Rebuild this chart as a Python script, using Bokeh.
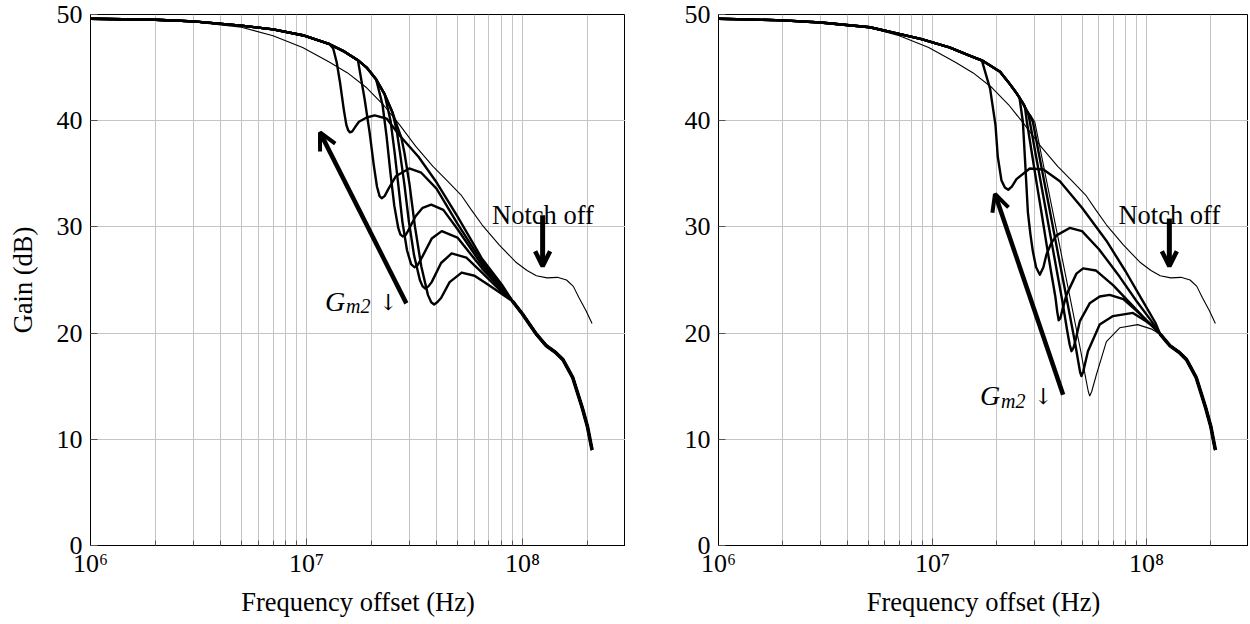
from bokeh.plotting import figure
from bokeh.layouts import row
from bokeh.models import Range1d, Arrow, OpenHead, FixedTicker, CustomJSTickFormatter
from bokeh.embed import file_html
from bokeh.resources import INLINE
from bokeh.core.properties import value

FONT = "Liberation Serif"

# ---------------- axes / labels ----------------
x_ticks = [1e6, 1e7, 1e8]
x_tick_labels = ["10\u2076", "10\u2077", "10\u2078"]
x_minor_mult = [2, 3, 4, 5, 6, 7, 8, 9]
y_ticks = [0, 10, 20, 30, 40, 50]
x_label = "Frequency offset (Hz)"
y_label = "Gain (dB)"
notch_text = "Notch off"

# ---------------- shared curves ----------------
notch_off_f = [1e6, 2e6, 3e6, 5e6, 7e6, 9.6e6, 1.28e7, 1.55e7, 1.9e7, 2.27e7, 2.7e7, 3.2e7,
               3.85e7, 4.5e7, 5.2e7, 5.8e7, 6.5e7, 7.8e7, 9.3e7, 1.05e8, 1.16e8, 1.3e8,
               1.45e8, 1.6e8, 1.72e8, 1.83e8, 1.97e8, 2.1e8]
notch_off_g = [49.6, 49.45, 49.3, 48.8, 48.0, 46.9, 45.5, 44.5, 43.1, 41.5, 39.6, 37.6,
               35.7, 34.3, 33.0, 31.6, 30.2, 28.3, 26.7, 25.9, 25.4, 25.2,
               25.25, 25.0, 24.4, 23.3, 22.1, 20.9]

tail_f = [9.0e7, 1.0e8, 1.16e8, 1.29e8, 1.42e8, 1.54e8, 1.71e8, 1.89e8, 2.0e8, 2.1e8]
tail_g = [23.0, 21.8, 19.9, 18.8, 18.2, 17.5, 15.8, 13.0, 11.2, 9.0]

# ---------------- left panel ----------------
L_env_f = [1e6, 2e6, 3e6, 5e6, 7e6, 9.6e6, 1.28e7, 1.5e7, 1.73e7, 1.9e7, 2.1e7, 2.3e7, 2.5e7, 2.65e7]
L_env_g = [49.6, 49.5, 49.35, 48.95, 48.6, 48.05, 47.2, 46.5, 45.7, 45.0, 43.9, 42.5, 40.8, 39.3]

L1_f = [1.33e7, 1.38e7, 1.43e7, 1.49e7, 1.53e7, 1.56e7, 1.59e7, 1.63e7, 1.68e7, 1.75e7, 1.9e7,
        2.07e7, 2.35e7, 2.7e7, 3.3e7, 4.0e7, 5.0e7, 6.5e7, 8.0e7]
L1_g = [46.8, 45.5, 43.6, 41.0, 39.6, 39.1, 38.9, 39.0, 39.4, 39.9, 40.3,
        40.5, 40.2, 38.6, 36.6, 34.2, 31.0, 27.0, 24.6]
L2_f = [1.73e7, 1.86e7, 1.96e7, 2.05e7, 2.12e7, 2.18e7, 2.23e7, 2.3e7, 2.4e7, 2.6e7, 2.99e7,
        3.4e7, 4.0e7, 5.0e7, 6.5e7, 8.0e7]
L2_g = [45.7, 42.0, 38.9, 35.8, 33.8, 32.9, 32.7, 32.9, 33.6, 34.8, 35.5,
        35.1, 33.6, 30.3, 26.7, 24.4]
L3_f = [2.1e7, 2.25e7, 2.35e7, 2.45e7, 2.55e7, 2.66e7, 2.72e7, 2.79e7, 2.87e7, 2.95e7, 3.2e7,
        3.45e7, 3.78e7, 4.3e7, 5.0e7, 6.5e7, 8.0e7]
L3_g = [43.9, 41.5, 38.5, 35.0, 32.0, 29.9, 29.3, 29.1, 29.2, 29.6, 31.0,
        31.8, 32.1, 31.6, 29.8, 26.4, 24.3]
L4_f = [2.3e7, 2.45e7, 2.56e7, 2.66e7, 2.78e7, 2.92e7, 3.05e7, 3.16e7, 3.27e7, 3.4e7, 3.8e7,
        4.23e7, 5.0e7, 6.5e7, 8.0e7]
L4_g = [42.5, 40.0, 37.0, 34.0, 30.5, 27.8, 26.5, 26.2, 26.4, 27.0, 28.9,
        29.6, 29.0, 26.1, 24.1]
L5_f = [2.5e7, 2.62e7, 2.71e7, 2.84e7, 2.98e7, 3.15e7, 3.35e7, 3.45e7, 3.55e7, 3.67e7, 3.8e7,
        4.2e7, 4.7e7, 5.5e7, 6.5e7, 8.0e7]
L5_g = [40.8, 39.0, 37.0, 34.0, 30.5, 27.3, 25.0, 24.4, 24.2, 24.4, 24.8,
        26.6, 27.5, 27.1, 25.7, 23.9]
L6_f = [2.75e7, 2.84e7, 3.0e7, 3.18e7, 3.4e7, 3.65e7, 3.78e7, 3.9e7, 4.03e7, 4.2e7, 4.6e7,
        5.23e7, 6.0e7, 7.0e7, 8.0e7]
L6_g = [38.4, 37.0, 34.0, 30.0, 26.3, 23.6, 22.9, 22.7, 22.9, 23.3, 24.8,
        25.7, 25.4, 24.5, 23.7]

L_big_arrow = dict(x_start=2.90e7, y_start=22.8, x_end=1.155e7, y_end=38.9)
L_notch_arrow = dict(x=1.24e8, y_start=31.1, y_end=26.3)
L_notch_text = (1.244e8, 31.1)
L_gm2 = (1.218e7, 23.0)

# ---------------- right panel ----------------
R_env_f = [1e6, 2e6, 3e6, 5.1e6, 8.8e6, 1.2e7, 1.5e7, 1.73e7, 2.07e7, 2.25e7, 2.47e7, 2.62e7, 2.75e7]
R_env_g = [49.6, 49.45, 49.25, 48.8, 47.7, 46.9, 46.1, 45.6, 44.6, 43.7, 42.6, 41.8, 41.0]

R1_f = [1.7e7, 1.86e7, 1.97e7, 2.02e7, 2.1e7, 2.18e7, 2.26e7, 2.35e7, 2.47e7, 2.85e7, 3.3e7,
        3.94e7, 5.0e7, 6.5e7, 8.0e7, 9.5e7, 1.1e8]
R1_g = [45.7, 43.0, 39.6, 36.6, 34.4, 33.7, 33.5, 33.8, 34.5, 35.5, 35.4,
        34.3, 31.8, 28.7, 25.8, 23.2, 21.0]
R2_f = [2.55e7, 2.646e7, 2.72e7, 2.792e7, 2.87e7, 2.946e7, 3.05e7, 3.176e7, 3.3e7, 3.41e7,
        3.6e7, 3.8e7, 4.38e7, 5.0e7, 6.0e7, 7.5e7, 9.0e7, 1.05e8]
R2_g = [42.2, 39.9, 35.6, 31.4, 29.3, 27.7, 26.2, 25.5, 26.2, 27.4,
        28.5, 29.2, 29.9, 29.6, 27.9, 25.3, 23.0, 21.2]
R3_f = [2.7e7, 2.762e7, 2.909e7, 3.062e7, 3.228e7, 3.398e7, 3.582e7, 3.752e7, 3.83e7, 3.89e7,
        3.96e7, 4.05e7, 4.23e7, 4.71e7, 5.06e7, 5.8e7, 7.0e7, 8.5e7, 1.0e8]
R3_g = [41.4, 39.9, 37.05, 34.24, 31.43, 28.61, 25.8, 23.45, 22.0, 21.2,
        21.4, 22.2, 23.6, 25.6, 26.1, 25.9, 24.5, 22.7, 21.2]
R4_f = [2.8e7, 2.852e7, 3.023e7, 3.333e7, 3.672e7, 4.05e7, 4.267e7, 4.38e7, 4.465e7, 4.56e7,
        4.7e7, 4.88e7, 5.43e7, 6.05e7, 6.73e7, 7.8e7, 9.0e7, 1.05e8]
R4_g = [40.7, 39.9, 37.05, 32.36, 27.67, 22.98, 20.17, 18.9, 18.3, 18.6,
        19.6, 21.1, 22.8, 23.45, 23.6, 23.2, 22.1, 20.8]
R5_f = [2.85e7, 2.946e7, 3.132e7, 3.472e7, 3.846e7, 4.264e7, 4.626e7, 4.8e7, 4.9e7, 4.97e7,
        5.07e7, 5.33e7, 6.05e7, 6.98e7, 8.65e7, 1.0e8, 1.1e8]
R5_g = [40.5, 39.9, 37.05, 32.36, 27.67, 22.98, 19.23, 17.35, 16.3, 15.95,
        16.4, 18.3, 20.8, 21.6, 21.9, 21.1, 20.5]
R6_f = [2.9e7, 3.01e7, 3.21e7, 3.574e7, 3.981e7, 4.432e7, 4.933e7, 5.235e7, 5.35e7, 5.434e7,
        5.55e7, 5.84e7, 6.5e7, 7.5e7, 9.1e7, 1.05e8]
R6_g = [40.4, 39.87, 37.05, 32.36, 27.67, 22.98, 18.29, 15.48, 14.5, 14.07,
        14.5, 16.1, 19.2, 20.5, 20.8, 20.4]

R_big_arrow = dict(x_start=4.08e7, y_start=14.2, x_end=1.96e7, y_end=33.1)
R_notch_arrow = dict(x=1.28e8, y_start=30.8, y_end=26.3)
R_notch_text = (1.28e8, 31.1)
R_gm2 = (1.667e7, 14.1)


def compose(env_f, env_g, own_f, own_g):
    f = [a for a in env_f if a < own_f[0]] + list(own_f) + [a for a in tail_f if a > own_f[-1]]
    g = ([b for a, b in zip(env_f, env_g) if a < own_f[0]] + list(own_g)
         + [b for a, b in zip(tail_f, tail_g) if a > own_f[-1]])
    return f, g


def make_fig(border_left, frame_w, with_ylabel):
    p = figure(x_axis_type="log", x_range=Range1d(1e6, 3e8), y_range=Range1d(0, 50),
               frame_width=frame_w, frame_height=531, output_backend="svg",
               toolbar_location=None, min_border_left=border_left, min_border_right=0,
               min_border_top=14, min_border_bottom=8, background_fill_color="white",
               border_fill_color="white", outline_line_color="black", outline_line_width=1)
    minor = [m * d for d in x_ticks for m in x_minor_mult]
    p.xaxis.ticker = FixedTicker(ticks=x_ticks, minor_ticks=minor)
    p.xaxis.formatter = CustomJSTickFormatter(args=dict(xt=x_ticks, xl=x_tick_labels), code="""
        let best = 0, bd = 1e9;
        for (let i = 0; i < xt.length; i++) {
            const d = Math.abs(Math.log10(tick) - Math.log10(xt[i]));
            if (d < bd) { bd = d; best = i; }
        }
        return xl[best];
    """)
    p.yaxis.ticker = FixedTicker(ticks=y_ticks)
    for ax in (p.xaxis[0], p.yaxis[0]):
        ax.major_label_text_font = FONT
        ax.major_label_text_font_size = "26px"
        ax.major_label_text_color = "black"
        ax.axis_label_text_font = FONT
        ax.axis_label_text_font_size = "26.5px"
        ax.axis_label_text_font_style = "normal"
        ax.axis_label_text_color = "black"
        ax.axis_line_color = "black"
        ax.major_tick_in = 7
        ax.major_tick_out = 0
        ax.major_tick_line_color = "#555555"
        ax.minor_tick_in = 5
        ax.minor_tick_out = 0
        ax.minor_tick_line_color = "#555555"
    p.yaxis.minor_tick_line_color = None
    p.xaxis.major_label_standoff = 3
    p.yaxis.major_label_standoff = 8
    p.xaxis.axis_label = x_label
    p.xaxis.axis_label_standoff = 6
    if with_ylabel:
        p.yaxis.axis_label = y_label
        p.yaxis.axis_label_standoff = 16
    p.xgrid.ticker = FixedTicker(ticks=x_ticks, minor_ticks=minor)
    p.xgrid.grid_line_color = "#c4c4c4"
    p.xgrid.minor_grid_line_color = "#c4c4c4"
    p.ygrid.ticker = FixedTicker(ticks=y_ticks)
    p.ygrid.grid_line_color = "#c4c4c4"
    return p


def decorate(p, big, notch_arrow, notch_pos, gm2_pos):
    p.add_layout(Arrow(end=OpenHead(size=17, line_width=4, line_color="black"),
                       line_width=4.5, line_color="black", **big))
    p.text(x=[notch_pos[0]], y=[notch_pos[1]], text=[notch_text], text_font=value(FONT),
           text_font_size="26.5px", text_align="center", text_baseline="middle", text_color="black")
    p.add_layout(Arrow(end=OpenHead(size=15, line_width=4.5, line_color="black"),
                       line_width=5, line_color="black",
                       x_start=notch_arrow["x"], y_start=notch_arrow["y_start"],
                       x_end=notch_arrow["x"], y_end=notch_arrow["y_end"]))
    gx, gy = gm2_pos
    p.text(x=[gx], y=[gy], text=["G"], text_font=value(FONT), text_font_style="italic",
           text_font_size="28px", text_align="left", text_baseline="middle", text_color="black")
    p.text(x=[gx], y=[gy], text=["m2"], text_font=value(FONT), text_font_style="italic",
           text_font_size="20px", text_align="left", text_baseline="middle", text_color="black",
           x_offset=21, y_offset=5)
    p.text(x=[gx], y=[gy], text=["\u2193"], text_font=value("DejaVu Serif"),
           text_font_size="22px", text_align="left", text_baseline="middle", text_color="black",
           x_offset=54, y_offset=1)


# ---- left ----
p1 = make_fig(90, 535, True)
p1.line(notch_off_f, notch_off_g, line_color="black", line_width=1.1)
for fo, go in [(L1_f, L1_g), (L2_f, L2_g), (L3_f, L3_g), (L4_f, L4_g), (L5_f, L5_g), (L6_f, L6_g)]:
    f, g = compose(L_env_f, L_env_g, fo, go)
    p1.line(f, g, line_color="black", line_width=2.4, line_join="round")
p1.line(tail_f, tail_g, line_color="black", line_width=3.6, line_join="round")
decorate(p1, L_big_arrow, L_notch_arrow, L_notch_text, L_gm2)

# ---- right ----
p2 = make_fig(93, 530, False)
p2.line(notch_off_f, notch_off_g, line_color="black", line_width=1.1)
f6, g6 = compose(R_env_f, R_env_g, R6_f, R6_g)
p2.line(f6, g6, line_color="black", line_width=1.1)
for fo, go in [(R1_f, R1_g), (R2_f, R2_g), (R3_f, R3_g), (R4_f, R4_g), (R5_f, R5_g)]:
    f, g = compose(R_env_f, R_env_g, fo, go)
    p2.line(f, g, line_color="black", line_width=2.4, line_join="round")
p2.line([a for a in tail_f if a >= 1.16e8], [b for a, b in zip(tail_f, tail_g) if a >= 1.16e8],
        line_color="black", line_width=3.6, line_join="round")
decorate(p2, R_big_arrow, R_notch_arrow, R_notch_text, R_gm2)

layout = row(p1, p2)
open("out.html", "w").write(file_html(layout, INLINE))
